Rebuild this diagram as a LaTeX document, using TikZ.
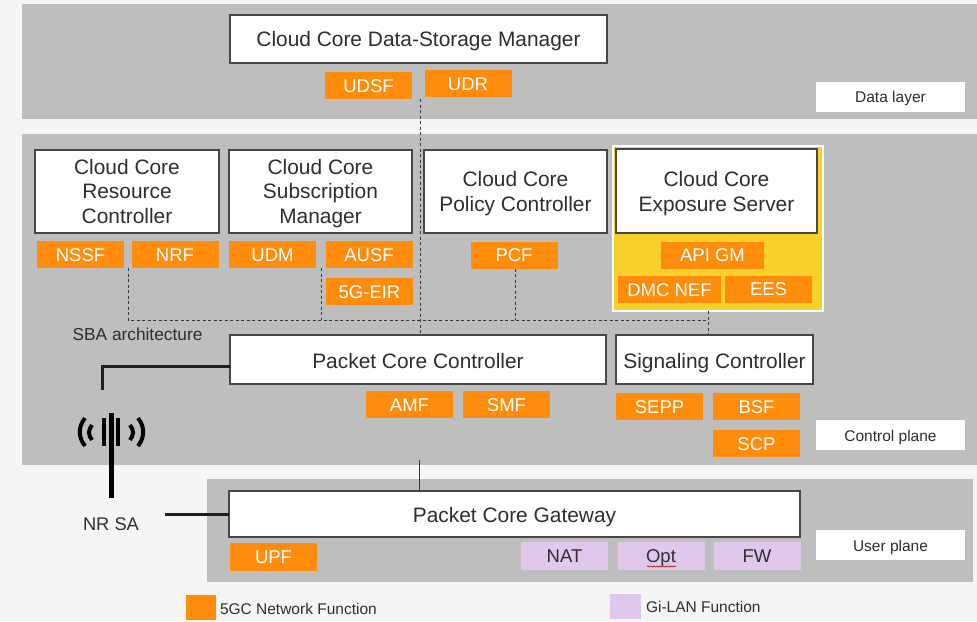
\documentclass[tikz,border=0pt]{standalone}
\usepackage{fontspec}
\setmainfont{Liberation Sans}
\usetikzlibrary{decorations.pathmorphing}

\begin{document}
\begin{tikzpicture}[
  x=1pt,y=-1pt,
  every node/.style={inner sep=0pt,outer sep=0pt,text=black!82},
  band/.style={fill=bandgray,minimum height=#1},
  corebox/.style={draw=black!72,line width=1.3pt,fill=white,align=center,font=\fontsize{20.9}{24.5}\selectfont},
  textdrop/.style={text height=#1,text depth=0pt},
  nfbox/.style={fill=nforange,text=white,minimum width=87pt,minimum height=27pt,textdrop=13.5pt,font=\fontsize{18.5}{22}\selectfont},
  gibox/.style={nfbox,fill=gipurple,text=black!82},
  planebox/.style={fill=white,minimum width=149pt,minimum height=30pt,textdrop=12pt,font=\fontsize{15.5}{18}\selectfont},
  legendbox/.style={minimum width=30pt,minimum height=25pt},
  sbaline/.style={draw=black!78,line width=1pt,dash pattern=on 3pt off 2.5pt},
  radioline/.style={draw=black!88,line width=3pt}
]
\useasboundingbox (0,0) rectangle (977,621);
\definecolor{bandgray}{HTML}{BEBEBE}
\definecolor{nforange}{HTML}{FF8C0A}
\definecolor{gipurple}{HTML}{E0C8EC}
\definecolor{expoyellow}{HTML}{F9D02C}
\fill[black!4] (0,0) rectangle (977,621);

% planes
\node[band=115pt,minimum width=955pt] (datalayer) at (499.5,61.5) {};
\node[band=331pt,minimum width=955pt] (controllayer) at (499.5,299.5) {};
\node[band=103pt,minimum width=766pt] (userlayer) at (590,530.5) {};
\node[planebox] (dataplane) at (890.5,96.5) {Data layer};
\node[planebox] (controlplane) at (890.5,435) {Control plane};
\node[planebox] (userplane) at (890.5,545) {User plane};

% exposure server background
\node[draw=white,line width=1.2pt,fill=expoyellow,minimum width=210pt,minimum height=165pt] (expobg) at (718,228.5) {};

% controllers
\node[corebox,textdrop=14pt,minimum width=377pt,minimum height=48pt] (storage) at (418.5,39) {Cloud Core Data-Storage Manager};
\node[corebox,textdrop=63pt,minimum width=184pt,minimum height=83pt] (resource) at (127,191.5) {Cloud Core\\Resource\\Controller};
\node[corebox,textdrop=63pt,minimum width=183pt,minimum height=83pt] (subscription) at (320.5,191.5) {Cloud Core\\Subscription\\Manager};
\node[corebox,textdrop=39pt,minimum width=183pt,minimum height=83pt] (policy) at (515.5,191.5) {Cloud Core\\Policy Controller};
\node[corebox,textdrop=40pt,minimum width=201pt,minimum height=84pt] (exposure) at (716.5,191) {Cloud Core\\Exposure Server};
\node[corebox,textdrop=18pt,minimum width=376pt,minimum height=49pt] (pcc) at (418,359.5) {Packet Core Controller};
\node[corebox,textdrop=17pt,minimum width=197pt,minimum height=49pt] (signaling) at (714.5,359.5) {Signaling Controller};
\node[corebox,textdrop=16pt,minimum width=571pt,minimum height=46pt] (gateway) at (514.5,514) {Packet Core Gateway};

% network functions
\node[nfbox] (udsf) at (368.5,85.5) {UDSF};
\node[nfbox] (udr) at (468,83.5) {UDR};
\node[nfbox] (nssf) at (80.5,254.5) {NSSF};
\node[nfbox] (nrf) at (175,254.5) {NRF};
\node[nfbox] (udm) at (272.5,254.5) {UDM};
\node[nfbox] (ausf) at (369,254.5) {AUSF};
\node[nfbox] (eir) at (369.5,291.5) {5G-EIR};
\node[nfbox] (pcf) at (514,255) {PCF};
\node[nfbox,minimum width=103pt] (apigm) at (712.5,255) {API GM};
\node[nfbox,minimum width=103pt] (nef) at (669.5,289.5) {DMC NEF};
\node[nfbox] (ees) at (768.5,289) {EES};
\node[nfbox] (amf) at (409.5,404.5) {AMF};
\node[nfbox] (smf) at (506.5,404.5) {SMF};
\node[nfbox] (sepp) at (659.5,406.5) {SEPP};
\node[nfbox] (bsf) at (756.5,406.5) {BSF};
\node[nfbox] (scp) at (756.5,443.5) {SCP};
\node[nfbox,minimum height=28pt] (upf) at (273.5,557) {UPF};
\node[gibox,minimum height=28pt] (nat) at (564.5,556) {NAT};
\node[gibox,minimum height=28pt] (opt) at (661,556) {Opt};
\node[gibox,minimum height=28pt] (fw) at (757,556) {FW};
\draw[red!70!black,line width=0.6pt,decorate,decoration={snake,amplitude=0.6pt,segment length=3pt}]
  (647,566.5) -- (676,566.5);

% texts and legend
\node[font=\fontsize{17.3}{20}\selectfont] (sba) at (137.5,334.5) {SBA architecture};
\node[font=\fontsize{18.3}{20}\selectfont] (nrsa) at (111,524) {NR SA};
\node[legendbox,fill=nforange] (nfkey) at (201,607) {};
\node[font=\fontsize{15.5}{18}\selectfont,anchor=west] (nftext) at (220,608.5) {5GC Network Function};
\node[legendbox,fill=gipurple,minimum width=31pt] (gikey) at (625.5,606.5) {};
\node[font=\fontsize{15.5}{18}\selectfont,anchor=west] (gitext) at (646,607) {Gi-LAN Function};

% SBA bus
\coordinate (busleft) at (128,268);
\coordinate (busudm) at (321,268);
\coordinate (busstore) at (420,99);
\draw[sbaline] (busleft) |- (708,320);
\draw[sbaline] (busudm) -- (busudm |- 0,320);
\draw[sbaline] (pcf.south) ++(1,0) -- ++(0,51);
\draw[sbaline] (busstore) -- (busstore |- pcc.north);
\draw[sbaline] (expobg.south -| 708,0) -- (signaling.north -| 708,0);

% radio links
\coordinate (mast) at (102,390);
\coordinate (radioend) at (165,514);
\coordinate (corelink) at (419,460);
\draw[radioline,line join=miter] (pcc.west |- 0,366) -| (mast);
\draw[radioline] (radioend) -- (radioend -| gateway.west);
\draw[draw=black!80,line width=1pt] (corelink) -- (corelink |- gateway.north);

% antenna
\draw[black,line width=5pt] (111,413) -- (111,498);
\draw[black,line width=4.5pt] (104,418) -- (104,446) (118,418) -- (118,446);
\draw[black,line width=4pt] (85,418) .. controls (78,427) and (78,437) .. (85,446)
  (92,425) .. controls (88,430) and (88,435) .. (92,440)
  (130,425) .. controls (134,430) and (134,435) .. (130,440)
  (138,418) .. controls (145,427) and (145,437) .. (138,446);
\end{tikzpicture}
\end{document}
